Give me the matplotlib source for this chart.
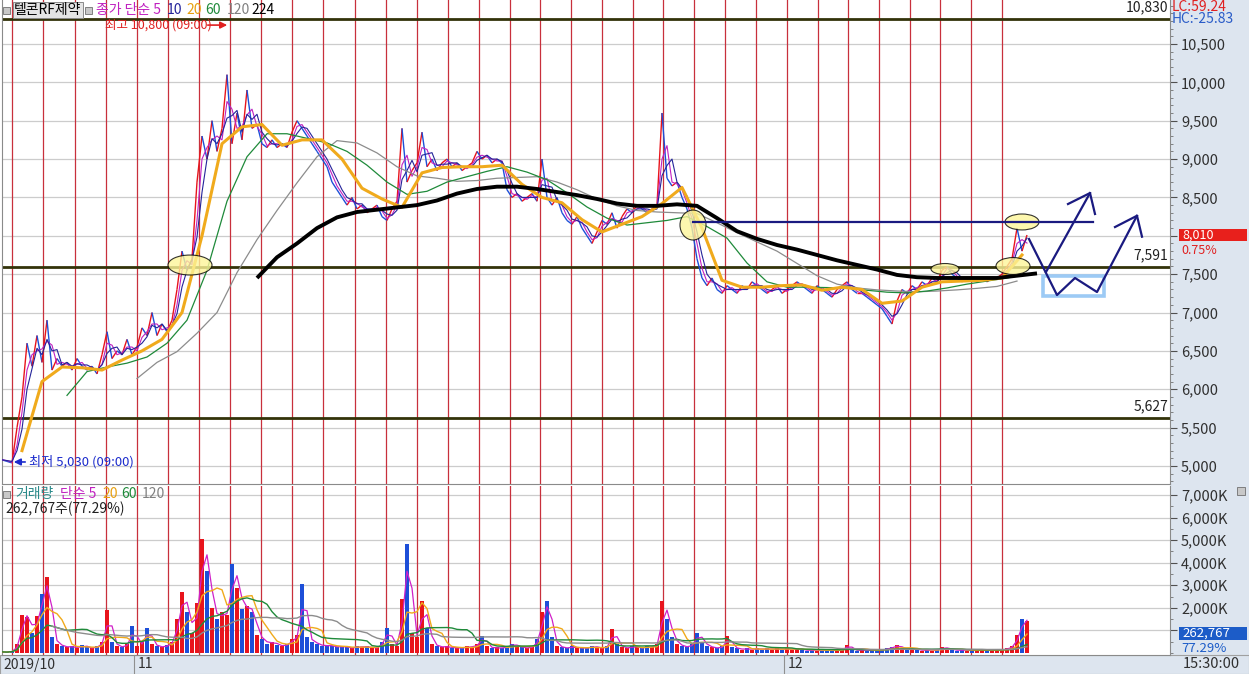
import matplotlib
matplotlib.use('Agg')
import matplotlib.pyplot as plt
import matplotlib.transforms as mtransforms
import numpy as np
import pandas as pd
from matplotlib.collections import LineCollection
from matplotlib.patches import Ellipse, Rectangle
from matplotlib.ticker import FuncFormatter, MultipleLocator

plt.rcParams['font.family'] = ['Noto Sans CJK KR', 'DejaVu Sans']

# ---- data (one sample ~ 1/6 trading day) ----
price = [5080, 5060, 5040, 5500, 5900, 6600, 6300, 6700, 6350, 6900,
         6250, 6400, 6300, 6350, 6250, 6400, 6300, 6250, 6300, 6200,
         6450, 6750, 6400, 6500, 6450, 6650, 6450, 6550, 6800, 6700,
         7000, 6700, 6850, 6750, 6900, 7300, 7800, 7550, 7700, 8700,
         9300, 9000, 9500, 9100, 9400, 10100, 9200, 9600, 9250, 9900,
         9400, 9450, 9200, 9150, 9250, 9150, 9200, 9150, 9350, 9500,
         9400, 9300, 9200, 9100, 9000, 8900, 8700, 8600, 8500, 8400,
         8500, 8350, 8400, 8300, 8350, 8400, 8250, 8200, 8350, 8450,
         9400, 8700, 8850, 8950, 9350, 8900, 9000, 8850, 8950, 9000,
         8900, 8950, 8850, 8900, 8950, 9100, 9000, 9050, 8950, 9000,
         8950, 8600, 8500, 8550, 8450, 8500, 8550, 8450, 9000, 8500,
         8400, 8500, 8300, 8200, 8150, 8250, 8100, 8000, 7900, 8050,
         8200, 8150, 8300, 8100, 8250, 8350, 8300, 8400, 8350, 8300,
         8350, 8400, 9600, 8750, 8650, 8700, 8500, 8350, 8100, 7700,
         7450, 7350, 7450, 7300, 7250, 7350, 7300, 7250, 7350, 7300,
         7400, 7350, 7300, 7250, 7300, 7350, 7250, 7300, 7350, 7400,
         7350, 7300, 7250, 7350, 7300, 7250, 7200, 7300, 7350, 7400,
         7300, 7250, 7250, 7200, 7150, 7100, 7050, 6950, 6850, 7150,
         7300, 7250, 7350, 7300, 7400, 7350, 7450, 7400, 7550, 7600,
         7500, 7450, 7400, 7450, 7400, 7450, 7450, 7400, 7450, 7450,
         7500, 7600, 7700, 8100, 7800, 8010]

volume_k = [50, 30, 100, 400, 1700, 1600, 900, 1650, 2600, 3350,
            700, 400, 300, 250, 300, 200, 350, 250, 200, 300,
            500, 1900, 500, 300, 250, 400, 1200, 300, 500, 1100,
            400, 300, 250, 350, 500, 1500, 2700, 1800, 900, 2200,
            5050, 3650, 2000, 1500, 1800, 1700, 3950, 2900, 1950, 2100,
            1800, 800, 600, 400, 500, 350, 300, 400, 600, 800,
            3050, 700, 500, 400, 300, 350, 300, 250, 300, 250,
            200, 300, 250, 300, 200, 250, 500, 1100, 400, 300,
            2400, 4850, 900, 700, 2300, 1100, 400, 300, 250, 300,
            200, 250, 200, 300, 250, 400, 750, 300, 200, 250,
            200, 300, 400, 300, 250, 200, 300, 600, 1800, 2300,
            700, 300, 250, 200, 300, 200, 250, 200, 300, 250,
            200, 300, 1050, 400, 250, 200, 300, 250, 200, 300,
            250, 400, 2300, 1500, 700, 400, 300, 250, 400, 900,
            500, 300, 250, 200, 300, 750, 250, 200, 150, 200,
            150, 200, 150, 200, 150, 200, 150, 200, 150, 200,
            150, 100, 150, 100, 150, 100, 150, 100, 150, 370,
            150, 100, 150, 100, 150, 100, 150, 200, 250, 350,
            200, 150, 200, 150, 100, 150, 100, 150, 250, 200,
            150, 100, 150, 100, 150, 100, 150, 100, 150, 100,
            150, 200, 300, 800, 1500, 1400]

# moving averages, every 4 samples from the given start
ma20_start = 4
ma20 = [5200, 6100, 6290, 6280, 6250, 6380, 6500, 6650, 7000, 8000,
        9200, 9420, 9450, 9180, 9250, 9250, 9000, 8620, 8480, 8370,
        8820, 8890, 8900, 8900, 8920, 8670, 8500, 8430, 8210, 8050,
        8150, 8250, 8420, 8630, 8100, 7420, 7330, 7330, 7350, 7360,
        7290, 7330, 7300, 7120, 7150, 7330, 7400, 7410, 7420, 7450, 7750]
ma60_start = 13
ma60 = [5920, 6230, 6290, 6340, 6420, 6600, 6900, 7550, 8450, 9030,
        9330, 9330, 9270, 9210, 9100, 8920, 8700, 8540, 8580, 8700,
        8770, 8840, 8900, 8830, 8730, 8560, 8375, 8230, 8140, 8170,
        8200, 8250, 8120, 7970, 7645, 7400, 7330, 7330, 7325, 7320,
        7290, 7265, 7255, 7280, 7320, 7370, 7410, 7450, 7500]
ma120_start = 27
ma120 = [6140, 6350, 6490, 6730, 7000, 7520, 7950, 8330, 8690, 9030,
         9240, 9210, 9080, 8900, 8780, 8750, 8710, 8720, 8750, 8760,
         8770, 8700, 8600, 8480, 8390, 8330, 8310, 8300, 8290, 8170,
         8040, 7920, 7800, 7640, 7480, 7370, 7320, 7295, 7280, 7270,
         7280, 7295, 7315, 7340, 7410]
ma224_start = 51
ma224 = [7450, 7720, 7900, 8100, 8240, 8310, 8340, 8370, 8400, 8460,
         8550, 8610, 8640, 8640, 8610, 8570, 8530, 8480, 8420, 8390,
         8390, 8410, 8390, 8230, 8060, 7960, 7880, 7820, 7750, 7680,
         7620, 7560, 7490, 7460, 7450, 7450, 7450, 7450, 7480, 7510]

day_breaks = [2.0, 8.2, 14.6, 20.8, 27.0, 33.2, 39.4, 45.6, 51.8, 58.0,
              64.2, 70.6, 76.8, 83.0, 89.2, 95.4, 101.6, 107.6, 113.8, 120.0,
              126.2, 132.2, 138.4, 144.6, 150.8, 157.0, 163.2, 169.2, 175.4,
              181.6, 187.6, 193.8, 200.0]
month_labels = ['2019/10', '11', '12']
month_pos = [0, 27, 157]

levels = [10830, 7591, 5627]
level_labels = ['10,830', '7,591', '5,627']
last_price, last_pct = '8,010', '0.75%'
last_vol, last_vol_pct = '262,767', '77.29%'

# drawn annotations (sample index, price)
ovals = [(37.6, 7619, 8.8, 260), (138.2, 8140, 5.2, 390), (188.6, 7567, 5.6, 143),
         (202.2, 7606, 6.8, 220), (204.0, 8180, 6.8, 208)]
target_line = ([138.2, 218.2], [8180, 8180])
path_a = ([205.4, 211.0, 214.6, 219.0, 227.0], [7958, 7228, 7450, 7267, 8261])
path_b = ([208.8, 217.6], [7528, 8557])
head_a = ([222.6, 227.0, 228.0], [8114, 8261, 7988])
head_b = ([213.2, 217.6, 218.6], [8414, 8557, 8284])
box_zone = (208.2, 7215, 12.2, 261)

# ---- figure ----
W, H = 1249, 674
fig = plt.figure(figsize=(W / 100, H / 100), dpi=100)
fig.patch.set_facecolor('white')
panel = '#dde5ef'
fig.patches.append(Rectangle((1170 / W, 0), 1 - 1170 / W, 1, transform=fig.transFigure,
                             facecolor=panel, edgecolor='none', zorder=-2))
fig.patches.append(Rectangle((0, 0), 1, 19 / H, transform=fig.transFigure,
                             facecolor=panel, edgecolor='#a0a0a0', lw=0.8, zorder=-2))

ax = fig.add_axes([2 / W, 1 - 484 / H, 1168 / W, 484 / H])
axv = fig.add_axes([2 / W, 1 - 655 / H, 1168 / W, 169 / H], sharex=ax)

x = np.arange(len(price))
p = np.array(price, dtype=float)
up = np.diff(p, prepend=p[0]) >= 0
XMAX = 233.6

for a in (ax, axv):
    a.set_facecolor('white')
    a.set_xlim(0, XMAX)
    a.spines['top'].set_visible(False)
    for s in ('left', 'right', 'bottom'):
        a.spines[s].set_color('#8a8a8a')
    a.tick_params(axis='x', which='both', bottom=False, labelbottom=False)
    a.yaxis.tick_right()
    a.tick_params(axis='y', which='major', length=5, pad=3, labelsize=10.5,
                  colors='#505050', labelcolor='#303030')
    a.tick_params(axis='y', which='minor', length=2.5, colors='#707070')
    for d in day_breaks:
        a.axvline(d, color='#c8303c', lw=0.9, zorder=1)

# price panel (8,000 label sits under the last-price box)
ax.set_ylim(4765, 11073)
ax.set_yticks(np.arange(5000, 10501, 500))
ax.yaxis.set_minor_locator(MultipleLocator(100))
ax.yaxis.set_major_formatter(FuncFormatter(lambda v, _: '' if v == 8000 else f'{int(v):,}'))
for v in np.arange(5000, 10501, 500):
    ax.axhline(v, color='#cccccc', lw=0.9, zorder=0)
for lv, lab in zip(levels, level_labels):
    ax.axhline(lv, color='#33330a', lw=2, zorder=2)
    ax.text(XMAX - 0.4, lv + 60, lab, ha='right', va='bottom', fontsize=10, color='#202020')

pts = np.column_stack([x, p]).reshape(-1, 1, 2)
segs = np.concatenate([pts[:-1], pts[1:]], axis=1)
cols = np.where(up[1:], '#e8141c', '#1d4fd8')
ax.add_collection(LineCollection(segs, colors=cols, lw=1.0, zorder=3))
ma5 = pd.Series(p).rolling(2, min_periods=1).mean()
ma10 = pd.Series(p).rolling(3, min_periods=1).mean()
ax.plot(x, ma5, color='#c020c0', lw=0.8, zorder=4)
ax.plot(x, ma10, color='#24249a', lw=0.8, zorder=4)


def ma_x(start, vals):
    return np.arange(start, start + 4 * len(vals), 4)[:len(vals)]


ax.plot(ma_x(ma120_start, ma120), ma120, color='#8c8c8c', lw=0.9, zorder=4)
ax.plot(ma_x(ma60_start, ma60), ma60, color='#1f8a3a', lw=0.9, zorder=4)
ax.plot(ma_x(ma20_start, ma20), ma20, color='#f0aa1c', lw=2.2, zorder=5)
ax.plot(ma_x(ma224_start, ma224), ma224, color='black', lw=2.8, zorder=6,
        solid_capstyle='butt')

# annotations
for ox, oy, ow, oh in ovals:
    ax.add_patch(Ellipse((ox, oy), ow, oh, facecolor='#fdf59a', alpha=0.8,
                         edgecolor='black', lw=0.8, zorder=7))
navy = '#1a1a80'
ax.plot(*target_line, color=navy, lw=1.6, zorder=8)
for pth in (path_a, path_b, head_a, head_b):
    ax.plot(*pth, color=navy, lw=1.6, zorder=8)
ax.add_patch(Rectangle(box_zone[:2], box_zone[2], box_zone[3], facecolor='none',
                       edgecolor='#9ccaf5', lw=2.6, zorder=7))

ax.text(20.6, 10746, '최고 10,800 (09:00)', color='#e02020', fontsize=9,
        va='center', ha='left', zorder=9)
ax.annotate('', xy=(45.6, 10746), xytext=(40.6, 10746),
            arrowprops=dict(arrowstyle='-|>', color='#e02020', lw=1.2), zorder=9)
ax.text(5.4, 5052, '최저 5,030 (09:00)', color='#1c2ccc', fontsize=9.5,
        va='center', ha='left', zorder=9)
ax.annotate('', xy=(1.8, 5052), xytext=(5.2, 5052),
            arrowprops=dict(arrowstyle='-|>', color='#1c2ccc', lw=1.2), zorder=9)

# volume panel (1,000K label sits under the last-volume box)
axv.set_ylim(-89, 7399)
axv.set_yticks(np.arange(1000, 7001, 1000))
axv.yaxis.set_minor_locator(MultipleLocator(500))
axv.yaxis.set_major_formatter(FuncFormatter(lambda v, _: '' if v == 1000 else f'{int(v):,}K'))
for v in np.arange(1000, 7001, 1000):
    axv.axhline(v, color='#cccccc', lw=0.9, zorder=0)
vol = np.array(volume_k, dtype=float)
axv.bar(x, vol, width=0.7, color=np.where(up, '#e8141c', '#1d4fd8'), zorder=3)
vs = pd.Series(vol)
axv.plot(x, vs.rolling(2, min_periods=1).mean(), color='#d020c8', lw=0.9, zorder=4)
axv.plot(x, vs.rolling(5, min_periods=1).mean(), color='#f0aa1c', lw=1.0, zorder=4)
axv.plot(x, vs.rolling(14, min_periods=1).mean(), color='#1f8a3a', lw=1.0, zorder=4)
axv.plot(x[10:], vs.rolling(28, min_periods=1).mean()[10:], color='#8c8c8c', lw=1.0, zorder=4)

# bottom date strip
tb = mtransforms.blended_transform_factory(axv.transData, fig.transFigure)
for lab, pos in zip(month_labels, month_pos):
    fig.text(pos + 0.2, 9.5 / H, lab, transform=tb, fontsize=10, color='#303030',
             va='center', ha='left')
for pos in month_pos[1:]:
    fig.lines.append(plt.Line2D([pos - 0.6, pos - 0.6], [0, 19 / H], transform=tb,
                                color='#909090', lw=0.8))
fig.text(1183 / W, 9.5 / H, '15:30:00', fontsize=10.5, color='#303030', va='center')


def ftext(px, py, s, **kw):
    kw.setdefault('fontsize', 10)
    kw.setdefault('va', 'center')
    kw.setdefault('zorder', 6)
    return fig.text(px / W, 1 - py / H, s, **kw)


def icon(px, py, size=7):
    fig.patches.append(Rectangle((px / W, 1 - (py + size / 2) / H), size / W, size / H,
                                 transform=fig.transFigure, facecolor='#c8c8c8',
                                 edgecolor='#707070', lw=0.6, zorder=5))


# header legend
icon(3, 10)
ftext(14, 10, '텔콘RF제약', color='black', fontsize=10,
      bbox=dict(boxstyle='square,pad=0.1', facecolor='#e4e4e4', edgecolor='#8a8a8a', lw=0.7))
icon(85, 10)
ftext(96, 10, '종가 단순 5', color='#c020c0')
ftext(167, 10, '10', color='#24249a')
ftext(186, 10, '20', color='#e8a010')
ftext(205, 10, '60', color='#1f8a3a')
ftext(227, 10, '120', color='#808080')
ftext(251, 10, '224', color='black')

icon(3, 494)
ftext(15, 494, '거래량', color='#2a8a8a')
ftext(60, 494, '단순 5', color='#c020c0')
ftext(102, 494, '20', color='#e8a010')
ftext(121, 494, '60', color='#1f8a3a')
ftext(142, 494, '120', color='#808080')
ftext(5, 509, f'{last_vol}주({last_vol_pct})', color='#202020')

# right panel labels
ftext(1172, 7, 'LC:59.24', color='#e02020')
ftext(1172, 19, 'HC:-25.83', color='#2a5cc8')
fig.patches.append(Rectangle((1179 / W, 1 - 241 / H), 68 / W, 12 / H, transform=fig.transFigure,
                             facecolor='#e8201c', edgecolor='none', zorder=1))
ftext(1182, 235, last_price, color='white', fontsize=9)
ftext(1181, 250, last_pct, color='#e02020', fontsize=9)
fig.patches.append(Rectangle((1179 / W, 1 - 640 / H), 68 / W, 13 / H, transform=fig.transFigure,
                             facecolor='#1c5cc8', edgecolor='none', zorder=1))
ftext(1182, 633, last_vol, color='white', fontsize=9.5)
ftext(1181, 649, last_vol_pct, color='#1c5cc8', fontsize=9.5)
icon(1237, 491, 8)

fig.savefig('out.png', dpi=100)
